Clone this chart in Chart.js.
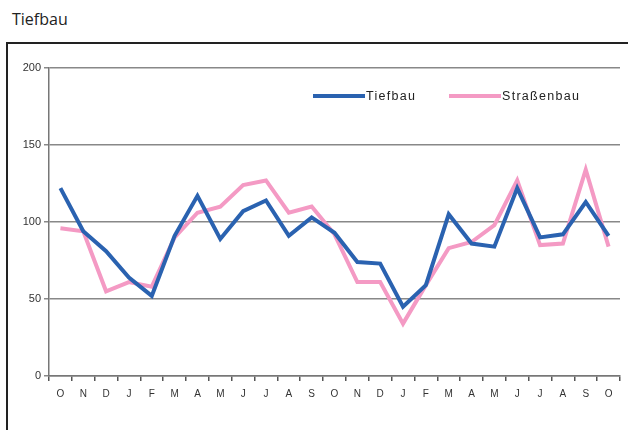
<!DOCTYPE html>
<html>
<head>
<meta charset="utf-8">
<script src="https://cdn.jsdelivr.net/npm/chart.js@4"></script>
<style>
  body { margin: 0; background: #fff; width: 628px; height: 430px; overflow: hidden; position: relative; }
  #title { position: absolute; left: 12px; top: 8px; font: 16px "Open Sans", sans-serif; color: #222; }
  #box { position: absolute; left: 6px; top: 42px; width: 640px; height: 420px; border: 2px solid #222; }
  #wrap { position: absolute; left: 0; top: 0; width: 628px; height: 430px; }
  #legend { position: absolute; top: 89px; left: 313px; font: 12.5px "Liberation Sans", Arial, sans-serif; color: #222; letter-spacing: 1.3px; }
  #legend span { position: absolute; white-space: nowrap; }
  #legend i { display: inline-block; width: 52px; height: 4px; vertical-align: middle; margin-right: 1px; position: relative; top: -1px; }
</style>
</head>
<body>
<div id="title">Tiefbau</div>
<div id="box"></div>
<div id="wrap"><canvas id="chart"></canvas></div>
<div id="legend">
  <span style="left:0"><i style="background:#2a62b0"></i>Tiefbau</span>
  <span style="left:136px"><i style="background:#f49ac4"></i>Straßenbau</span>
</div>
<script>
// Monate Okt bis Okt
const months = ['O', 'N', 'D', 'J', 'F', 'M', 'A', 'M', 'J', 'J', 'A', 'S',
                'O', 'N', 'D', 'J', 'F', 'M', 'A', 'M', 'J', 'J', 'A', 'S', 'O'];
const tiefbau = [122, 94, 81, 64, 52, 91, 117, 89, 107, 114, 91, 103,
                 93, 74, 73, 45, 59, 105, 86, 84, 122, 90, 92, 113, 91];
const strassenbau = [96, 94, 55, 61, 58, 90, 106, 110, 124, 127, 106, 110,
                     92, 61, 61, 34, 59, 83, 87, 98, 127, 85, 86, 134, 84];
const yTicks = [0, 50, 100, 150, 200];

const ctx = document.getElementById('chart').getContext('2d');
new Chart(ctx, {
    type: 'line',
    data: {
        labels: months,
        datasets: [
            { label: 'Tiefbau', data: tiefbau, borderColor: '#2a62b0', borderWidth: 4, pointRadius: 0, tension: 0, fill: false },
            { label: 'Straßenbau', data: strassenbau, borderColor: '#f49ac4', borderWidth: 4, pointRadius: 0, tension: 0, fill: false }
        ]
    },
    options: {
        responsive: true,
        maintainAspectRatio: false,
        animation: false,
        layout: { padding: { left: 0, right: 8, top: 68, bottom: 0 } },
        plugins: { legend: { display: false }, tooltip: { enabled: false } },
        scales: {
            x: {
                offset: true,
                grid: { offset: true, drawOnChartArea: false, color: '#555', tickLength: 5, lineWidth: 1.5 },
                border: { color: '#777', width: 1.5 },
                ticks: { color: '#333', font: { family: 'Liberation Sans', size: 10 }, padding: 7, maxRotation: 0, autoSkip: false },
                afterFit: scale => { scale.height = 54; }
            },
            y: {
                min: 0, max: 200,
                afterBuildTicks: scale => { scale.ticks = yTicks.map(v => ({ value: v })); },
                grid: { color: '#888', lineWidth: 1.5, tickLength: 5 },
                border: { color: '#777', width: 1.5 },
                ticks: { color: '#333', font: { family: 'Liberation Sans', size: 11 }, padding: 3 },
                afterFit: scale => { scale.width = 49; }
            }
        }
    }
});
</script>
</body>
</html>
